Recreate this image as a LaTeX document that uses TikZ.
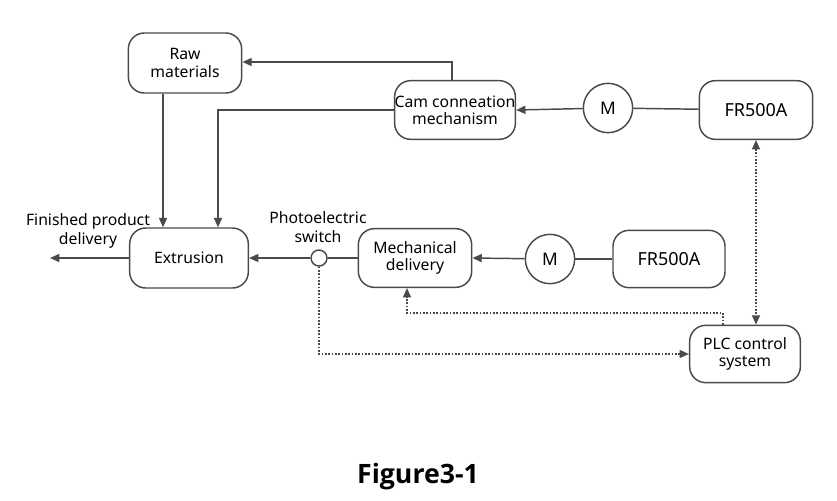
\documentclass[tikz,border=0pt]{standalone}
\usepackage{fontspec}
\setmainfont{Noto Sans}
\newfontfamily\figfont{Open Sans}
\usetikzlibrary{arrows.meta}
\definecolor{ln}{HTML}{4A4A4A}
\begin{document}
\begin{tikzpicture}[x=0.75pt,y=-0.75pt,
  box/.style={draw=ln,line width=1.1pt,rounded corners=12pt,minimum width=#1,align=center,font=\fontsize{11.8}{13}\selectfont,inner sep=0pt},
  box/.default=85pt,
  mot/.style={draw=ln,line width=1.1pt,circle,minimum size=37pt,inner sep=0pt,font=\fontsize{13}{15}\selectfont},
  con/.style={draw=ln,line width=1.1pt},
  arr/.style={con,-{Triangle[length=7pt,width=6pt]}},
  dot/.style={draw=ln,line width=1.1pt,dash pattern=on 1.2pt off 1.3pt},
  darr/.style={dot,-{Triangle[length=7pt,width=6pt]}},
  lbl/.style={align=center,font=\fontsize{11.8}{14}\selectfont,inner sep=0pt}]
\useasboundingbox (0,0) rectangle (837,500);
\node[box=85pt,minimum height=45pt] (raw) at (185,63) {Raw\\materials};
\node[box=86pt,minimum height=44pt] (cam) at (455,110) {Cam conneation\\mechanism};
\node[mot] (m1) at (608,108) {M};
\node[box=85pt,minimum height=44pt,font=\fontsize{13.5}{15}\selectfont] (fr1) at (756,110) {FR500A};
\node[box=89pt,minimum height=45pt] (ext) at (189,258) {Extrusion};
\node[draw=ln,line width=1.1pt,circle,minimum size=12pt,inner sep=0pt,fill=white] (pe) at (319,258) {};
\node[box=85pt,minimum height=44pt] (mech) at (415,258) {Mechanical\\delivery};
\node[mot] (m2) at (550,259) {M};
\node[box=84pt,minimum height=43pt,font=\fontsize{13.5}{15}\selectfont] (fr2) at (669,259) {FR500A};
\node[box=83pt,minimum height=43pt] (plc) at (745,354) {PLC control\\system};
\node[lbl] (fin) at (88,231) {Finished product\\delivery};
\node[lbl] (pel) at (318,227) {Photoelectric\\switch};
\coordinate (out) at (50,258);
\node[font=\figfont\bfseries\fontsize{20}{23}\selectfont] (fig) at (418,477) {Figure3-1};
% solid connectors
\draw[arr] (cam.north -| 452,0) -- (452,62) -- (raw.east |- 0,62);
\draw[arr] (cam.west) -- (218,110) -- (ext.north -| 218,0);
\draw[arr] (raw.south -| 163,0) -- (ext.north -| 163,0);
\draw[arr] (m1) -- (cam.east);
\draw[con] (fr1) -- (m1);
\draw[arr] (ext.west) -- (out);
\draw[arr] (pe) -- (ext.east);
\draw[con] (mech.west) -- (pe);
\draw[arr] (m2) -- (mech.east);
\draw[con] (fr2) -- (m2);
% dotted connectors
\draw[darr,{Triangle[length=7pt,width=6pt]}-{Triangle[length=7pt,width=6pt]}] (fr1.south) -- (plc.north -| fr1.south);
\draw[darr] (plc.north -| 723,0) -- (723,313) -- (407,313) -- (mech.south -| 407,0);
\draw[darr] (pe.south) -- (319,354) -- (plc.west);
\end{tikzpicture}
\end{document}
